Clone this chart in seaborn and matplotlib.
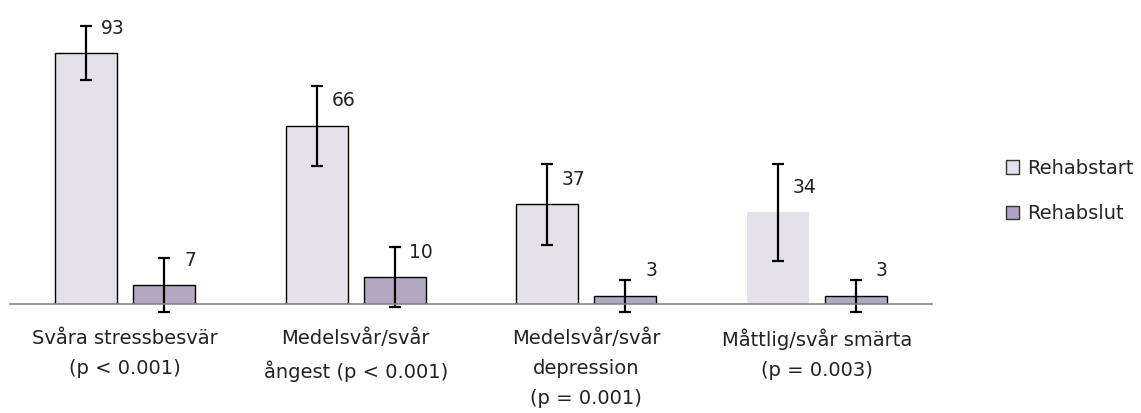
import pandas as pd
import seaborn as sns
import matplotlib.pyplot as plt
from matplotlib.patches import Patch

# data
kategorier = ["Svåra stressbesvär\n(p < 0.001)",
              "Medelsvår/svår\nångest (p < 0.001)",
              "Medelsvår/svår\ndepression\n(p = 0.001)",
              "Måttlig/svår smärta\n(p = 0.003)"]
serier = ["Rehabstart", "Rehabslut"]
rehabstart = [93, 66, 37, 34]
rehabslut = [7, 10, 3, 3]
fel_start = [10, 15, 15, 18]
fel_slut = [10, 11, 6, 6]

color1 = "#E4DFEC"
color2 = "#B3A2C7"

df = pd.DataFrame({
    "kategori": kategorier * 2,
    "serie": [serier[0]] * 4 + [serier[1]] * 4,
    "varde": rehabstart + rehabslut,
})

sns.set_theme(style="white")
plt.rcParams['font.family'] = ['DejaVu Sans']

fig = plt.figure(figsize=(11.41, 4.13), dpi=100)
ax = fig.add_axes([10 / 1141, 109 / 413, 922 / 1141, 294 / 413])

sns.barplot(data=df, x="kategori", y="varde", hue="serie", ax=ax,
            palette=[color1, color2], width=0.674, gap=0.2,
            edgecolor="black", linewidth=1, errorbar=None, legend=False)

fel = fel_start + fel_slut
varden = rehabstart + rehabslut
bars = ax.patches[:8]
for i, (p, v, e) in enumerate(zip(bars, varden, fel)):
    xc = p.get_x() + p.get_width() / 2
    if i == 3:
        p.set_edgecolor("none")
    ax.errorbar(xc, v, yerr=e, color="black", lw=1.6, capsize=4.3,
                capthick=1.6, clip_on=False)
    # Excel-style data label, upper right of the bar centre
    ax.annotate(str(v), (xc, v), xytext=(19, 18), textcoords="offset points",
                ha="center", va="center", fontsize=13.5, color="#222222")

ax.set_ylim(0, 109)
ax.set_xlim(-0.5, 3.5)
ax.set_xlabel("")
ax.set_ylabel("")
ax.set_yticks([])
ax.tick_params(axis="x", length=0, pad=18, labelsize=14)
for lbl in ax.get_xticklabels():
    lbl.set_linespacing(1.7)
    lbl.set_color("#222222")
for s in ["top", "right", "left"]:
    ax.spines[s].set_visible(False)
ax.spines["bottom"].set_color("#868686")
ax.spines["bottom"].set_linewidth(1.2)

# legend
handles = [Patch(facecolor=color1, edgecolor="#333333", label=serier[0]),
           Patch(facecolor=color2, edgecolor="#333333", label=serier[1])]
fig.legend(handles=handles, loc="center left", bbox_to_anchor=(996 / 1141, 1 - 191 / 413),
           frameon=False, fontsize=14, handlelength=0.7, handleheight=0.7,
           handletextpad=0.4, labelspacing=1.35, borderpad=0)

plt.savefig("out.png", dpi=100)
plt.close()
